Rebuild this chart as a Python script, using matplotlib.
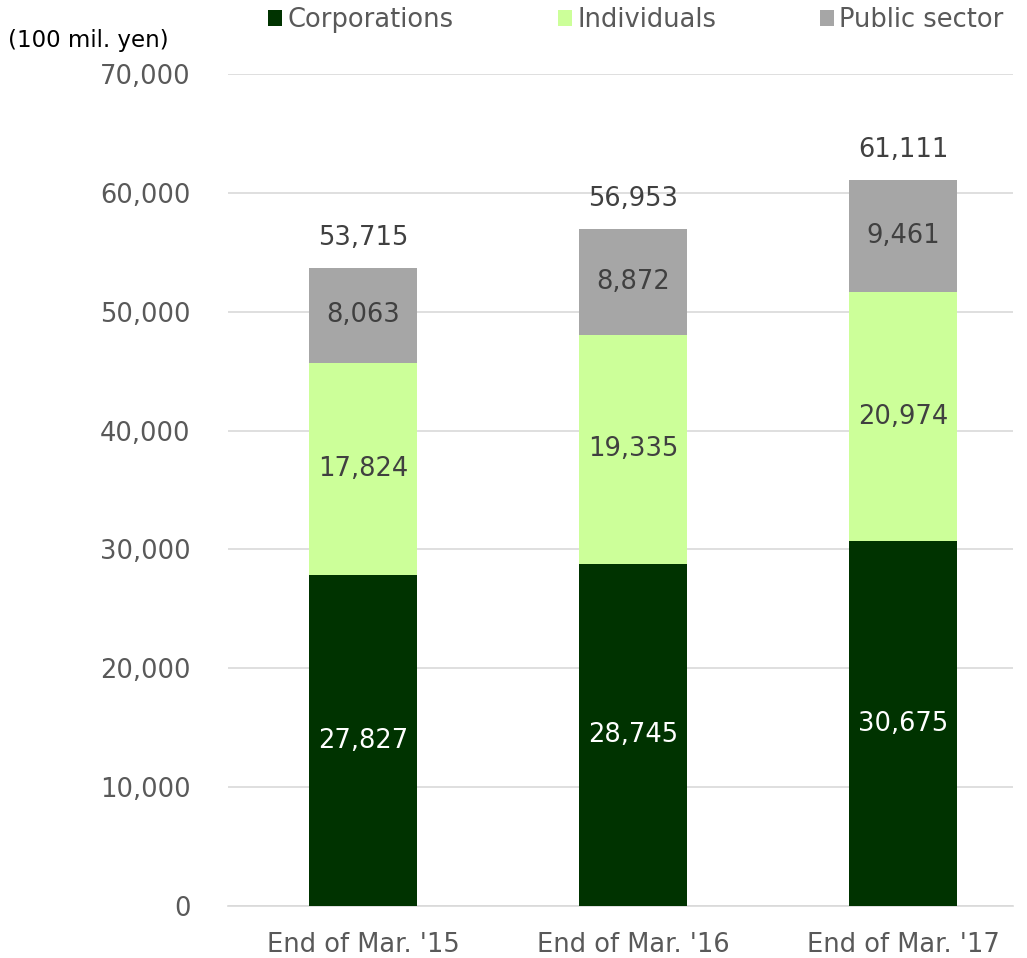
import matplotlib.pyplot as plt
import numpy as np

# data
categories = ["End of Mar. '15", "End of Mar. '16", "End of Mar. '17"]
corporations = [27827, 28745, 30675]
individuals = [17824, 19335, 20974]
public_sector = [8063, 8872, 9461]
totals = [53715, 56953, 61111]

dark_green = "#003300"
light_green = "#CCFF99"
gray = "#A6A6A6"
text_color = "#595959"
fs = 18.5

plt.rcParams['font.family'] = ['DejaVu Sans']

fig = plt.figure(figsize=(10.27, 9.58), dpi=100)
ax = fig.add_axes([228/1027, 1-906/958, 785/1027, 832/958])

x = np.arange(len(categories))
w = 0.4
b1 = ax.bar(x, corporations, w, color=dark_green, label="Corporations", zorder=3)
b2 = ax.bar(x, individuals, w, bottom=corporations, color=light_green, label="Individuals", zorder=3)
bottom3 = np.array(corporations) + np.array(individuals)
b3 = ax.bar(x, public_sector, w, bottom=bottom3, color=gray, label="Public sector", zorder=3)

for i in range(len(x)):
    ax.text(x[i], corporations[i] / 2, f"{corporations[i]:,}", ha='center', va='center',
            color='white', fontsize=fs)
    ax.text(x[i], corporations[i] + individuals[i] / 2, f"{individuals[i]:,}", ha='center',
            va='center', color='#404040', fontsize=fs)
    ax.text(x[i], bottom3[i] + public_sector[i] / 2, f"{public_sector[i]:,}", ha='center',
            va='center', color='#404040', fontsize=fs)
    ax.text(x[i], totals[i] + 2500, f"{totals[i]:,}", ha='center', va='center',
            color='#404040', fontsize=fs)

ax.set_ylim(0, 70000)
ax.set_xlim(-0.5, -0.5 + 785/270)
ax.set_yticks(np.arange(0, 70001, 10000))
ax.set_yticklabels([f"{v:,}" for v in range(0, 70001, 10000)])
ax.set_xticks(x)
ax.set_xticklabels(categories)
ax.tick_params(axis='both', length=0, labelsize=fs, colors=text_color)
ax.tick_params(axis='y', pad=27)
ax.tick_params(axis='x', pad=19)
ax.grid(axis='y', color='#D9D9D9', linewidth=1.2, zorder=0)
for s in ['top', 'right', 'left']:
    ax.spines[s].set_visible(False)
ax.spines['bottom'].set_color('#D9D9D9')
ax.spines['bottom'].set_linewidth(1.2)

fig.text(8/1027, 1-40/958, "(100 mil. yen)", fontsize=16.5, color='black', va='center', ha='left')

leg = fig.legend(handles=[b1, b2, b3], loc='center', bbox_to_anchor=(636/1027, 1-20/958),
                 ncol=3, frameon=False, fontsize=fs, handlelength=0.55, handleheight=0.55,
                 handletextpad=0.2, columnspacing=4.05, borderpad=0)
for t in leg.get_texts():
    t.set_color(text_color)

fig.savefig("out.png", dpi=100)
